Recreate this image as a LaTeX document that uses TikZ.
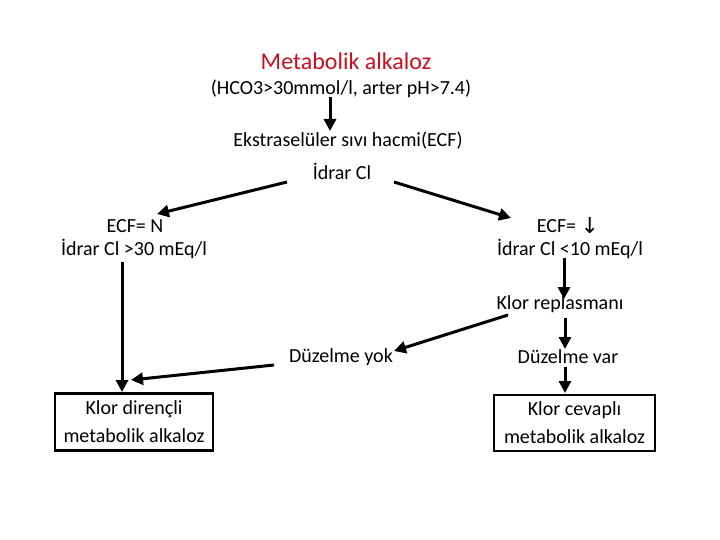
\documentclass[tikz,border=0pt]{standalone}
\usepackage{fontspec}
\setmainfont{Carlito}
\newfontfamily\symfont{DejaVu Sans}
\usetikzlibrary{arrows.meta}
\definecolor{titlered}{RGB}{200,16,30}
\tikzset{
  txt/.style={inner sep=0pt, font=\fontsize{20}{24}\selectfont, align=center},
  conn/.style={line width=3pt, -{Triangle[length=12pt,width=12pt]}},
  result/.style={draw, line width=2.6pt, minimum width=158pt, minimum height=57pt, align=center, font=\fontsize{20}{28}\selectfont, inner sep=0pt}
}
\begin{document}
\begin{tikzpicture}[x=1pt,y=-1pt]
\useasboundingbox (0,0) rectangle (720,540);
\node[txt, text=titlered, font=\fontsize{24}{28}\selectfont] (title) at (346,61) {Metabolik alkaloz};
\node[txt] (sub) at (341,89) {(HCO3>30mmol/l, arter pH>7.4)};
\node[txt] (ekstra) at (348,141) {Ekstraselüler sıvı hacmi(ECF)};
\node[txt] (idrar) at (342,171) {İdrar Cl};
\node[txt] (ecfN) at (135,226) {ECF= N};
\node[txt] (idrarN) at (134,249) {İdrar Cl >30 mEq/l};
\node[txt] (ecfD) at (568,226) {ECF= {\symfont\fontsize{22}{22}\selectfont\raisebox{-1pt}{↓}}};
\node[txt] (idrarD) at (570,249) {İdrar Cl <10 mEq/l};
\node[txt] (klor) at (560,304) {Klor replasmanı};
\node[txt] (duzvar) at (568,357) {Düzelme var};
\node[txt] (duzyok) at (341,357) {Düzelme yok};
\node[result] (boxL) at (134,422) {Klor dirençli\\metabolik alkaloz};
\node[result, minimum width=161pt, minimum height=56pt] (boxR) at (574.5,423) {Klor cevaplı\\metabolik alkaloz};
% connector end points
\coordinate (a1s) at (330,97);   \coordinate (a1e) at (330,131);
\coordinate (a2s) at (287,182);  \coordinate (a2e) at (157,214);
\coordinate (a3s) at (394,182);  \coordinate (a3e) at (511,218);
\coordinate (a8s) at (508,315);  \coordinate (a8e) at (394,351);
\coordinate (a9s) at (274,365);  \coordinate (a9e) at (131,380);
\coordinate (a4s) at (564,258);  \coordinate (a4e) at (564,299);
\coordinate (a5s) at (565,318);  \coordinate (a5e) at (565,349);
\coordinate (a6s) at (565,367);  \coordinate (a6e) at (565,393);
\coordinate (a7s) at (122,262);  \coordinate (a7e) at (122,392);
\draw[conn] (a1s) -- (a1e);
\draw[conn] (a2s) -- (a2e);
\draw[conn] (a3s) -- (a3e);
\draw[conn] (a4s) -- (a4e);
\draw[conn] (a5s) -- (a5e);
\draw[conn] (a6s) -- (a6e);
\draw[conn] (a7s) -- (a7e);
\draw[conn] (a8s) -- (a8e);
\draw[conn] (a9s) -- (a9e);
\end{tikzpicture}
\end{document}
